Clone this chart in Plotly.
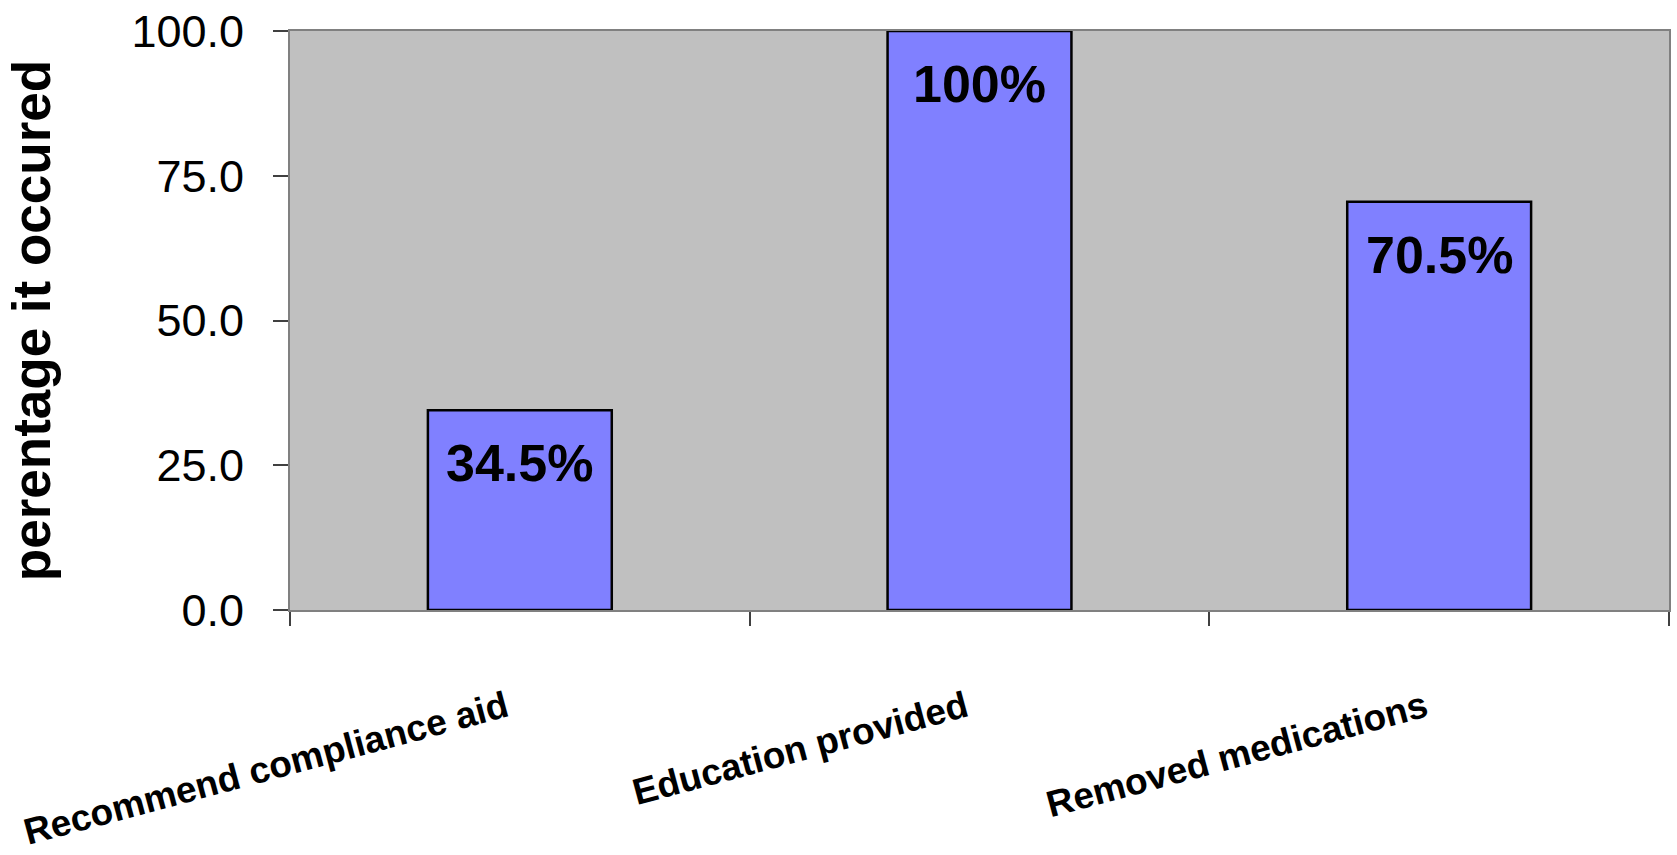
import plotly.graph_objects as go

# Chart data
categories = ["Recommend compliance aid", "Education provided", "Removed medications"]
values = [34.5, 100.0, 70.5]
value_labels = ["34.5%", "100%", "70.5%"]
y_tick_vals = [0, 25, 50, 75, 100]
y_tick_text = ["0.0", "25.0", "50.0", "75.0", "100.0"]
y_title = "perentage it occured"

SANS = "Liberation Sans, Arial, sans-serif"

fig = go.Figure()
fig.add_trace(go.Bar(
    x=categories,
    y=values,
    marker=dict(color="#8080FF", line=dict(color="#000000", width=2.5)),
    hoverinfo="skip",
))

# value labels placed just inside the top of each bar
for cat, val, lab in zip(categories, values, value_labels):
    fig.add_annotation(
        x=cat, y=val, xref="x", yref="y",
        text=f"<b>{lab}</b>",
        showarrow=False,
        yanchor="top", xanchor="center",
        yshift=-22,
        font=dict(family=SANS, size=52, color="#000000"),
    )

fig.update_layout(
    width=1677, height=855,
    margin=dict(l=290, r=8, t=31, b=245, autoexpand=False),
    paper_bgcolor="#FFFFFF",
    plot_bgcolor="#C0C0C0",
    bargap=0.6,
    showlegend=False,
)

fig.update_xaxes(
    type="category",
    showline=True, linecolor="#808080", linewidth=2, mirror=True,
    ticks="outside", tickson="boundaries", ticklen=14, tickcolor="#404040", tickwidth=1.5,
    tickangle=-15,
    tickfont=dict(family=SANS, size=37, color="#000000", weight="bold"),
    ticklabelstandoff=60,
    ticklabelshift=-14,
    showgrid=False,
    automargin=False,
)

fig.update_yaxes(
    range=[0, 100],
    tickvals=y_tick_vals, ticktext=y_tick_text,
    showline=True, linecolor="#808080", linewidth=2, mirror=True,
    ticks="outside", ticklen=15, tickcolor="#404040", tickwidth=1.5,
    tickfont=dict(family=SANS, size=45, color="#000000"),
    ticklabelstandoff=20,
    showgrid=False, zeroline=False,
    title=dict(text=y_title, font=dict(family=SANS, size=53, color="#000000", weight="bold"), standoff=64),
    automargin=False,
)

fig.write_html("out.html")
